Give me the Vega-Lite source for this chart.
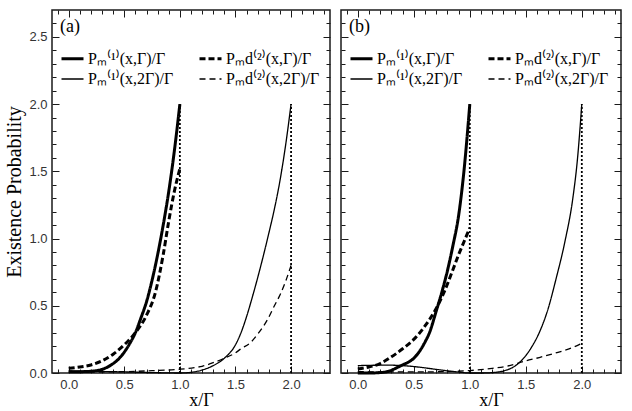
{
  "$schema": "https://vega.github.io/schema/vega-lite/v6.json",
  "padding": {"left": 4, "top": 8, "right": 4, "bottom": 0},
  "spacing": 7,
  "config": {
    "view": {"stroke": "#1a1a1a", "strokeWidth": 1.5},
    "axis": {"domain": false, "tickColor": "#1a1a1a", "tickWidth": 1, "labelFont": "Liberation Sans", "labelFontSize": 13, "labelColor": "#333333", "titleFont": "Liberation Serif", "titleFontWeight": "normal", "titleColor": "black", "grid": false, "labelOverlap": false, "labelFlush": false, "labelBound": false},
    "legend": {"orient": "top-left", "offset": 8, "padding": 0, "columns": 2, "columnPadding": 19, "rowPadding": 0, "symbolType": "stroke", "symbolSize": 484, "symbolStrokeColor": "black", "symbolOffset": 0, "labelOffset": 3, "labelFont": "Liberation Serif", "labelFontSize": 16, "labelColor": "black", "labelLimit": 0, "titleFont": "Liberation Serif", "titleFontSize": 18, "titleFontWeight": "normal", "titleColor": "black", "titlePadding": 10}
  },
  "datasets": {
    "a": [
      {"s": "Pₘ⁽¹⁾(x,Γ)/Γ", "x": 0, "y": 0.01}, {"s": "Pₘ⁽¹⁾(x,Γ)/Γ", "x": 0.1, "y": 0.01}, {"s": "Pₘ⁽¹⁾(x,Γ)/Γ", "x": 0.2, "y": 0.013}, {"s": "Pₘ⁽¹⁾(x,Γ)/Γ", "x": 0.3, "y": 0.027}, {"s": "Pₘ⁽¹⁾(x,Γ)/Γ", "x": 0.4, "y": 0.07}, {"s": "Pₘ⁽¹⁾(x,Γ)/Γ", "x": 0.45, "y": 0.105}, {"s": "Pₘ⁽¹⁾(x,Γ)/Γ", "x": 0.5, "y": 0.155}, {"s": "Pₘ⁽¹⁾(x,Γ)/Γ", "x": 0.55, "y": 0.22}, {"s": "Pₘ⁽¹⁾(x,Γ)/Γ", "x": 0.6, "y": 0.3}, {"s": "Pₘ⁽¹⁾(x,Γ)/Γ", "x": 0.65, "y": 0.41}, {"s": "Pₘ⁽¹⁾(x,Γ)/Γ", "x": 0.7, "y": 0.53}, {"s": "Pₘ⁽¹⁾(x,Γ)/Γ", "x": 0.75, "y": 0.69}, {"s": "Pₘ⁽¹⁾(x,Γ)/Γ", "x": 0.8, "y": 0.88}, {"s": "Pₘ⁽¹⁾(x,Γ)/Γ", "x": 0.85, "y": 1.1}, {"s": "Pₘ⁽¹⁾(x,Γ)/Γ", "x": 0.9, "y": 1.35}, {"s": "Pₘ⁽¹⁾(x,Γ)/Γ", "x": 0.95, "y": 1.65}, {"s": "Pₘ⁽¹⁾(x,Γ)/Γ", "x": 1.0, "y": 2.0},
      {"s": "Pₘd⁽²⁾(x,Γ)/Γ", "x": 0, "y": 0.035}, {"s": "Pₘd⁽²⁾(x,Γ)/Γ", "x": 0.1, "y": 0.045}, {"s": "Pₘd⁽²⁾(x,Γ)/Γ", "x": 0.2, "y": 0.06}, {"s": "Pₘd⁽²⁾(x,Γ)/Γ", "x": 0.3, "y": 0.09}, {"s": "Pₘd⁽²⁾(x,Γ)/Γ", "x": 0.4, "y": 0.14}, {"s": "Pₘd⁽²⁾(x,Γ)/Γ", "x": 0.5, "y": 0.21}, {"s": "Pₘd⁽²⁾(x,Γ)/Γ", "x": 0.6, "y": 0.3}, {"s": "Pₘd⁽²⁾(x,Γ)/Γ", "x": 0.7, "y": 0.43}, {"s": "Pₘd⁽²⁾(x,Γ)/Γ", "x": 0.78, "y": 0.6}, {"s": "Pₘd⁽²⁾(x,Γ)/Γ", "x": 0.85, "y": 0.88}, {"s": "Pₘd⁽²⁾(x,Γ)/Γ", "x": 0.9, "y": 1.13}, {"s": "Pₘd⁽²⁾(x,Γ)/Γ", "x": 0.95, "y": 1.35}, {"s": "Pₘd⁽²⁾(x,Γ)/Γ", "x": 1.0, "y": 1.52},
      {"s": "Pₘ⁽¹⁾(x,2Γ)/Γ", "x": 0, "y": 0.015}, {"s": "Pₘ⁽¹⁾(x,2Γ)/Γ", "x": 0.25, "y": 0.012}, {"s": "Pₘ⁽¹⁾(x,2Γ)/Γ", "x": 0.5, "y": 0.008}, {"s": "Pₘ⁽¹⁾(x,2Γ)/Γ", "x": 0.75, "y": 0.003}, {"s": "Pₘ⁽¹⁾(x,2Γ)/Γ", "x": 1.0, "y": 0.0}, {"s": "Pₘ⁽¹⁾(x,2Γ)/Γ", "x": 1.1, "y": 0.005}, {"s": "Pₘ⁽¹⁾(x,2Γ)/Γ", "x": 1.2, "y": 0.022}, {"s": "Pₘ⁽¹⁾(x,2Γ)/Γ", "x": 1.3, "y": 0.055}, {"s": "Pₘ⁽¹⁾(x,2Γ)/Γ", "x": 1.4, "y": 0.11}, {"s": "Pₘ⁽¹⁾(x,2Γ)/Γ", "x": 1.5, "y": 0.21}, {"s": "Pₘ⁽¹⁾(x,2Γ)/Γ", "x": 1.55, "y": 0.3}, {"s": "Pₘ⁽¹⁾(x,2Γ)/Γ", "x": 1.6, "y": 0.42}, {"s": "Pₘ⁽¹⁾(x,2Γ)/Γ", "x": 1.65, "y": 0.56}, {"s": "Pₘ⁽¹⁾(x,2Γ)/Γ", "x": 1.7, "y": 0.71}, {"s": "Pₘ⁽¹⁾(x,2Γ)/Γ", "x": 1.75, "y": 0.87}, {"s": "Pₘ⁽¹⁾(x,2Γ)/Γ", "x": 1.8, "y": 1.04}, {"s": "Pₘ⁽¹⁾(x,2Γ)/Γ", "x": 1.85, "y": 1.22}, {"s": "Pₘ⁽¹⁾(x,2Γ)/Γ", "x": 1.9, "y": 1.43}, {"s": "Pₘ⁽¹⁾(x,2Γ)/Γ", "x": 1.95, "y": 1.69}, {"s": "Pₘ⁽¹⁾(x,2Γ)/Γ", "x": 2.0, "y": 2.0},
      {"s": "Pₘd⁽²⁾(x,2Γ)/Γ", "x": 0, "y": 0.005}, {"s": "Pₘd⁽²⁾(x,2Γ)/Γ", "x": 0.25, "y": 0.007}, {"s": "Pₘd⁽²⁾(x,2Γ)/Γ", "x": 0.5, "y": 0.01}, {"s": "Pₘd⁽²⁾(x,2Γ)/Γ", "x": 0.75, "y": 0.017}, {"s": "Pₘd⁽²⁾(x,2Γ)/Γ", "x": 1.0, "y": 0.028}, {"s": "Pₘd⁽²⁾(x,2Γ)/Γ", "x": 1.13, "y": 0.04}, {"s": "Pₘd⁽²⁾(x,2Γ)/Γ", "x": 1.2, "y": 0.05}, {"s": "Pₘd⁽²⁾(x,2Γ)/Γ", "x": 1.31, "y": 0.08}, {"s": "Pₘd⁽²⁾(x,2Γ)/Γ", "x": 1.4, "y": 0.11}, {"s": "Pₘd⁽²⁾(x,2Γ)/Γ", "x": 1.49, "y": 0.145}, {"s": "Pₘd⁽²⁾(x,2Γ)/Γ", "x": 1.55, "y": 0.18}, {"s": "Pₘd⁽²⁾(x,2Γ)/Γ", "x": 1.64, "y": 0.23}, {"s": "Pₘd⁽²⁾(x,2Γ)/Γ", "x": 1.7, "y": 0.29}, {"s": "Pₘd⁽²⁾(x,2Γ)/Γ", "x": 1.79, "y": 0.4}, {"s": "Pₘd⁽²⁾(x,2Γ)/Γ", "x": 1.85, "y": 0.5}, {"s": "Pₘd⁽²⁾(x,2Γ)/Γ", "x": 1.9, "y": 0.58}, {"s": "Pₘd⁽²⁾(x,2Γ)/Γ", "x": 1.95, "y": 0.68}, {"s": "Pₘd⁽²⁾(x,2Γ)/Γ", "x": 2.0, "y": 0.8}
    ],
    "b": [
      {"s": "Pₘ⁽¹⁾(x,Γ)/Γ", "x": 0, "y": 0.0}, {"s": "Pₘ⁽¹⁾(x,Γ)/Γ", "x": 0.1, "y": 0.0}, {"s": "Pₘ⁽¹⁾(x,Γ)/Γ", "x": 0.2, "y": 0.003}, {"s": "Pₘ⁽¹⁾(x,Γ)/Γ", "x": 0.25, "y": 0.008}, {"s": "Pₘ⁽¹⁾(x,Γ)/Γ", "x": 0.3, "y": 0.02}, {"s": "Pₘ⁽¹⁾(x,Γ)/Γ", "x": 0.35, "y": 0.04}, {"s": "Pₘ⁽¹⁾(x,Γ)/Γ", "x": 0.4, "y": 0.06}, {"s": "Pₘ⁽¹⁾(x,Γ)/Γ", "x": 0.45, "y": 0.08}, {"s": "Pₘ⁽¹⁾(x,Γ)/Γ", "x": 0.5, "y": 0.11}, {"s": "Pₘ⁽¹⁾(x,Γ)/Γ", "x": 0.55, "y": 0.16}, {"s": "Pₘ⁽¹⁾(x,Γ)/Γ", "x": 0.6, "y": 0.23}, {"s": "Pₘ⁽¹⁾(x,Γ)/Γ", "x": 0.64, "y": 0.3}, {"s": "Pₘ⁽¹⁾(x,Γ)/Γ", "x": 0.7, "y": 0.46}, {"s": "Pₘ⁽¹⁾(x,Γ)/Γ", "x": 0.75, "y": 0.6}, {"s": "Pₘ⁽¹⁾(x,Γ)/Γ", "x": 0.8, "y": 0.76}, {"s": "Pₘ⁽¹⁾(x,Γ)/Γ", "x": 0.85, "y": 0.95}, {"s": "Pₘ⁽¹⁾(x,Γ)/Γ", "x": 0.9, "y": 1.17}, {"s": "Pₘ⁽¹⁾(x,Γ)/Γ", "x": 0.95, "y": 1.52}, {"s": "Pₘ⁽¹⁾(x,Γ)/Γ", "x": 1.0, "y": 2.0},
      {"s": "Pₘd⁽²⁾(x,Γ)/Γ", "x": 0, "y": 0.03}, {"s": "Pₘd⁽²⁾(x,Γ)/Γ", "x": 0.1, "y": 0.045}, {"s": "Pₘd⁽²⁾(x,Γ)/Γ", "x": 0.2, "y": 0.07}, {"s": "Pₘd⁽²⁾(x,Γ)/Γ", "x": 0.3, "y": 0.12}, {"s": "Pₘd⁽²⁾(x,Γ)/Γ", "x": 0.4, "y": 0.18}, {"s": "Pₘd⁽²⁾(x,Γ)/Γ", "x": 0.5, "y": 0.25}, {"s": "Pₘd⁽²⁾(x,Γ)/Γ", "x": 0.6, "y": 0.35}, {"s": "Pₘd⁽²⁾(x,Γ)/Γ", "x": 0.7, "y": 0.48}, {"s": "Pₘd⁽²⁾(x,Γ)/Γ", "x": 0.78, "y": 0.62}, {"s": "Pₘd⁽²⁾(x,Γ)/Γ", "x": 0.85, "y": 0.77}, {"s": "Pₘd⁽²⁾(x,Γ)/Γ", "x": 0.9, "y": 0.88}, {"s": "Pₘd⁽²⁾(x,Γ)/Γ", "x": 0.95, "y": 0.98}, {"s": "Pₘd⁽²⁾(x,Γ)/Γ", "x": 1.0, "y": 1.08},
      {"s": "Pₘ⁽¹⁾(x,2Γ)/Γ", "x": 0, "y": 0.055}, {"s": "Pₘ⁽¹⁾(x,2Γ)/Γ", "x": 0.1, "y": 0.057}, {"s": "Pₘ⁽¹⁾(x,2Γ)/Γ", "x": 0.2, "y": 0.058}, {"s": "Pₘ⁽¹⁾(x,2Γ)/Γ", "x": 0.3, "y": 0.058}, {"s": "Pₘ⁽¹⁾(x,2Γ)/Γ", "x": 0.4, "y": 0.055}, {"s": "Pₘ⁽¹⁾(x,2Γ)/Γ", "x": 0.5, "y": 0.048}, {"s": "Pₘ⁽¹⁾(x,2Γ)/Γ", "x": 0.6, "y": 0.038}, {"s": "Pₘ⁽¹⁾(x,2Γ)/Γ", "x": 0.7, "y": 0.027}, {"s": "Pₘ⁽¹⁾(x,2Γ)/Γ", "x": 0.8, "y": 0.016}, {"s": "Pₘ⁽¹⁾(x,2Γ)/Γ", "x": 0.9, "y": 0.007}, {"s": "Pₘ⁽¹⁾(x,2Γ)/Γ", "x": 1.0, "y": 0.0}, {"s": "Pₘ⁽¹⁾(x,2Γ)/Γ", "x": 1.1, "y": 0.0}, {"s": "Pₘ⁽¹⁾(x,2Γ)/Γ", "x": 1.2, "y": 0.003}, {"s": "Pₘ⁽¹⁾(x,2Γ)/Γ", "x": 1.3, "y": 0.015}, {"s": "Pₘ⁽¹⁾(x,2Γ)/Γ", "x": 1.4, "y": 0.05}, {"s": "Pₘ⁽¹⁾(x,2Γ)/Γ", "x": 1.47, "y": 0.1}, {"s": "Pₘ⁽¹⁾(x,2Γ)/Γ", "x": 1.55, "y": 0.19}, {"s": "Pₘ⁽¹⁾(x,2Γ)/Γ", "x": 1.62, "y": 0.3}, {"s": "Pₘ⁽¹⁾(x,2Γ)/Γ", "x": 1.7, "y": 0.48}, {"s": "Pₘ⁽¹⁾(x,2Γ)/Γ", "x": 1.77, "y": 0.7}, {"s": "Pₘ⁽¹⁾(x,2Γ)/Γ", "x": 1.85, "y": 0.98}, {"s": "Pₘ⁽¹⁾(x,2Γ)/Γ", "x": 1.92, "y": 1.3}, {"s": "Pₘ⁽¹⁾(x,2Γ)/Γ", "x": 1.96, "y": 1.58}, {"s": "Pₘ⁽¹⁾(x,2Γ)/Γ", "x": 2.0, "y": 2.0},
      {"s": "Pₘd⁽²⁾(x,2Γ)/Γ", "x": 0, "y": 0.01}, {"s": "Pₘd⁽²⁾(x,2Γ)/Γ", "x": 0.25, "y": 0.008}, {"s": "Pₘd⁽²⁾(x,2Γ)/Γ", "x": 0.5, "y": 0.008}, {"s": "Pₘd⁽²⁾(x,2Γ)/Γ", "x": 0.75, "y": 0.01}, {"s": "Pₘd⁽²⁾(x,2Γ)/Γ", "x": 1.0, "y": 0.018}, {"s": "Pₘd⁽²⁾(x,2Γ)/Γ", "x": 1.2, "y": 0.035}, {"s": "Pₘd⁽²⁾(x,2Γ)/Γ", "x": 1.33, "y": 0.05}, {"s": "Pₘd⁽²⁾(x,2Γ)/Γ", "x": 1.5, "y": 0.09}, {"s": "Pₘd⁽²⁾(x,2Γ)/Γ", "x": 1.62, "y": 0.115}, {"s": "Pₘd⁽²⁾(x,2Γ)/Γ", "x": 1.75, "y": 0.145}, {"s": "Pₘd⁽²⁾(x,2Γ)/Γ", "x": 1.92, "y": 0.19}, {"s": "Pₘd⁽²⁾(x,2Γ)/Γ", "x": 2.0, "y": 0.22}
    ],
    "va": [{"x": 1, "y": 0, "y2": 2}, {"x": 2, "y": 0, "y2": 2}]
  },
  "resolve": {
    "scale": {"strokeDash": "independent", "strokeWidth": "independent"},
    "legend": {"strokeDash": "independent", "strokeWidth": "independent"}
  },
  "hconcat": [
    {
      "width": 278, "height": 363,
      "resolve": {"axis": {"x": "independent", "y": "independent"}},
      "layer": [
        {
          "data": {"name": "a"},
          "mark": {"type": "line", "color": "black", "strokeCap": "butt", "interpolate": "monotone"},
          "encoding": {
            "x": {"field": "x", "type": "quantitative", "scale": {"domain": [-0.15, 2.35], "nice": false, "zero": false},
              "axis": {"orient": "bottom", "values": [-0.1,0,0.1,0.2,0.3,0.4,0.5,0.6,0.7,0.8,0.9,1,1.1,1.2,1.3,1.4,1.5,1.6,1.7,1.8,1.9,2,2.1,2.2,2.3],
                "labelExpr": "abs(datum.value*2-round(datum.value*2))<0.001 ? format(datum.value,'.1f') : ''",
                "tickSize": {"condition": {"test": "abs(datum.value*2-round(datum.value*2))<0.001", "value": -7}, "value": -4},
                "labelPadding": 12, "title": "x/Γ", "titleFontSize": 18, "titleX": 149, "titleY": 18, "titleBaseline": "top", "titlePadding": 0}},
            "y": {"field": "y", "type": "quantitative", "scale": {"domain": [0, 2.7], "nice": false, "zero": false},
              "axis": {"orient": "left", "values": [0,0.1,0.2,0.3,0.4,0.5,0.6,0.7,0.8,0.9,1,1.1,1.2,1.3,1.4,1.5,1.6,1.7,1.8,1.9,2,2.1,2.2,2.3,2.4,2.5,2.6],
                "labelExpr": "abs(datum.value*2-round(datum.value*2))<0.001 ? format(datum.value,'.1f') : ''",
                "tickSize": {"condition": {"test": "abs(datum.value*2-round(datum.value*2))<0.001", "value": -7}, "value": -4},
                "labelPadding": 12, "title": "Existence Probability", "titleFontSize": 20, "titlePadding": 4}},
            "strokeDash": {"field": "s", "type": "nominal",
              "scale": {"type": "ordinal", "domain": ["Pₘ⁽¹⁾(x,Γ)/Γ", "Pₘ⁽¹⁾(x,2Γ)/Γ", "Pₘd⁽²⁾(x,Γ)/Γ", "Pₘd⁽²⁾(x,2Γ)/Γ"], "range": [[1,0],[1,0],[6,3],[6,4]]},
              "legend": {"title": "(a)"}},
            "strokeWidth": {"field": "s", "type": "nominal",
              "scale": {"type": "ordinal", "domain": ["Pₘ⁽¹⁾(x,Γ)/Γ", "Pₘ⁽¹⁾(x,2Γ)/Γ", "Pₘd⁽²⁾(x,Γ)/Γ", "Pₘd⁽²⁾(x,2Γ)/Γ"], "range": [3, 1.3, 3, 1.3]},
              "legend": {"title": "(a)"}}
          }
        },
        {
          "data": {"name": "va"},
          "mark": {"type": "rule", "color": "black", "strokeDash": [2, 2], "strokeWidth": 1.8},
          "encoding": {
            "x": {"field": "x", "type": "quantitative",
              "axis": {"orient": "top", "values": [-0.1,0,0.1,0.2,0.3,0.4,0.5,0.6,0.7,0.8,0.9,1,1.1,1.2,1.3,1.4,1.5,1.6,1.7,1.8,1.9,2,2.1,2.2,2.3], "labels": false, "title": null,
                "tickSize": {"condition": {"test": "abs(datum.value*2-round(datum.value*2))<0.001", "value": -7}, "value": -4}}},
            "y": {"field": "y", "type": "quantitative",
              "axis": {"orient": "right", "values": [0,0.1,0.2,0.3,0.4,0.5,0.6,0.7,0.8,0.9,1,1.1,1.2,1.3,1.4,1.5,1.6,1.7,1.8,1.9,2,2.1,2.2,2.3,2.4,2.5,2.6], "labels": false, "title": null,
                "tickSize": {"condition": {"test": "abs(datum.value*2-round(datum.value*2))<0.001", "value": -7}, "value": -4}}},
            "y2": {"field": "y2"}
          }
        }
      ]
    },
    {
      "width": 280, "height": 363,
      "resolve": {"axis": {"x": "independent", "y": "independent"}},
      "layer": [
        {
          "data": {"name": "b"},
          "mark": {"type": "line", "color": "black", "strokeCap": "butt", "interpolate": "monotone"},
          "encoding": {
            "x": {"field": "x", "type": "quantitative", "scale": {"domain": [-0.15, 2.35], "nice": false, "zero": false},
              "axis": {"orient": "bottom", "values": [-0.1,0,0.1,0.2,0.3,0.4,0.5,0.6,0.7,0.8,0.9,1,1.1,1.2,1.3,1.4,1.5,1.6,1.7,1.8,1.9,2,2.1,2.2,2.3],
                "labelExpr": "abs(datum.value*2-round(datum.value*2))<0.001 ? format(datum.value,'.1f') : ''",
                "tickSize": {"condition": {"test": "abs(datum.value*2-round(datum.value*2))<0.001", "value": -7}, "value": -4},
                "labelPadding": 12, "title": "x/Γ", "titleFontSize": 18, "titleX": 150, "titleY": 18, "titleBaseline": "top", "titlePadding": 0}},
            "y": {"field": "y", "type": "quantitative", "scale": {"domain": [0, 2.7], "nice": false, "zero": false},
              "axis": {"orient": "left", "values": [0,0.1,0.2,0.3,0.4,0.5,0.6,0.7,0.8,0.9,1,1.1,1.2,1.3,1.4,1.5,1.6,1.7,1.8,1.9,2,2.1,2.2,2.3,2.4,2.5,2.6], "labels": false, "title": null,
                "tickSize": {"condition": {"test": "abs(datum.value*2-round(datum.value*2))<0.001", "value": -7}, "value": -4}}},
            "strokeDash": {"field": "s", "type": "nominal",
              "scale": {"type": "ordinal", "domain": ["Pₘ⁽¹⁾(x,Γ)/Γ", "Pₘ⁽¹⁾(x,2Γ)/Γ", "Pₘd⁽²⁾(x,Γ)/Γ", "Pₘd⁽²⁾(x,2Γ)/Γ"], "range": [[1,0],[1,0],[6,3],[6,4]]},
              "legend": {"title": "(b)"}},
            "strokeWidth": {"field": "s", "type": "nominal",
              "scale": {"type": "ordinal", "domain": ["Pₘ⁽¹⁾(x,Γ)/Γ", "Pₘ⁽¹⁾(x,2Γ)/Γ", "Pₘd⁽²⁾(x,Γ)/Γ", "Pₘd⁽²⁾(x,2Γ)/Γ"], "range": [3, 1.3, 3, 1.3]},
              "legend": {"title": "(b)"}}
          }
        },
        {
          "data": {"name": "va"},
          "mark": {"type": "rule", "color": "black", "strokeDash": [2, 2], "strokeWidth": 1.8},
          "encoding": {
            "x": {"field": "x", "type": "quantitative",
              "axis": {"orient": "top", "values": [-0.1,0,0.1,0.2,0.3,0.4,0.5,0.6,0.7,0.8,0.9,1,1.1,1.2,1.3,1.4,1.5,1.6,1.7,1.8,1.9,2,2.1,2.2,2.3], "labels": false, "title": null,
                "tickSize": {"condition": {"test": "abs(datum.value*2-round(datum.value*2))<0.001", "value": -7}, "value": -4}}},
            "y": {"field": "y", "type": "quantitative",
              "axis": {"orient": "right", "values": [0,0.1,0.2,0.3,0.4,0.5,0.6,0.7,0.8,0.9,1,1.1,1.2,1.3,1.4,1.5,1.6,1.7,1.8,1.9,2,2.1,2.2,2.3,2.4,2.5,2.6], "labels": false, "title": null,
                "tickSize": {"condition": {"test": "abs(datum.value*2-round(datum.value*2))<0.001", "value": -7}, "value": -4}}},
            "y2": {"field": "y2"}
          }
        }
      ]
    }
  ]
}
